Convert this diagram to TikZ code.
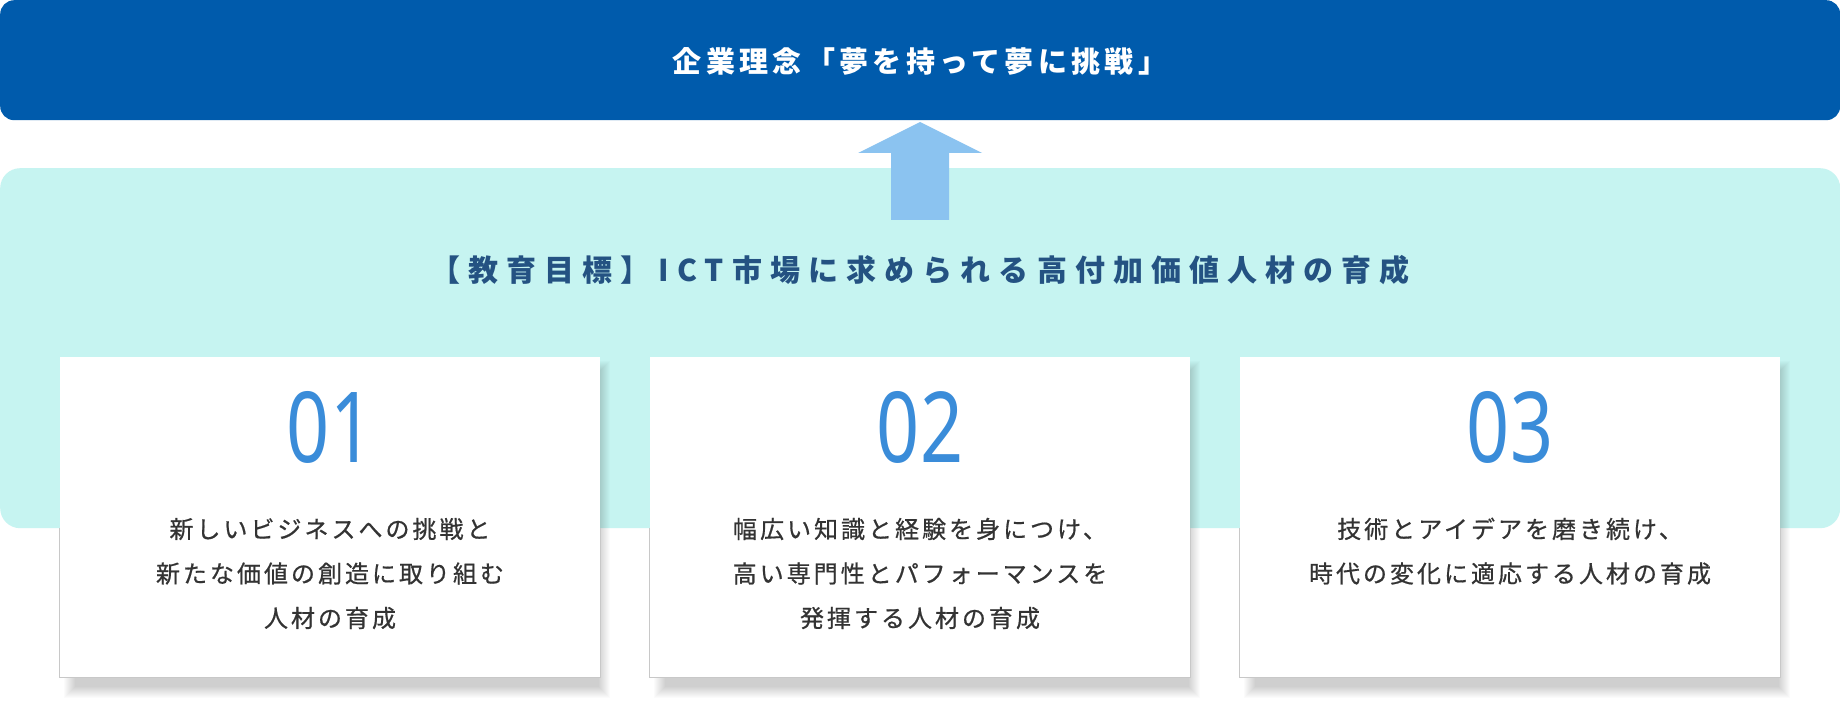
\documentclass[tikz,border=0pt]{standalone}
\usepackage{fontspec}
\newfontfamily\jptitle[LetterSpace=15]{Noto Sans CJK JP}
\newfontfamily\jpsub[LetterSpace=27]{Noto Sans CJK JP}
\newfontfamily\jpbody[LetterSpace=12.5,FakeBold=0.6]{Noto Sans CJK JP}
\newfontfamily\numfont[FakeStretch=0.77]{Noto Sans}
\definecolor{barblue}{RGB}{0,91,172}
\definecolor{goalteal}{RGB}{198,244,241}
\definecolor{arrowblue}{RGB}{139,195,240}
\definecolor{subnavy}{RGB}{36,82,130}
\definecolor{numblue}{RGB}{58,140,217}
\definecolor{bodygray}{RGB}{51,51,51}
\definecolor{edgegray}{RGB}{200,200,200}
\tikzset{
  panel/.style={anchor=north west, inner sep=0pt, minimum width=1840pt},
  card/.style={fill=white, inner sep=0pt, minimum width=540pt, minimum height=320pt},
  shadowlayer/.style={fill=black, opacity=0.015},
  cardedge/.style={draw=edgegray, line width=1pt},
  titletext/.style={text=white, inner sep=0pt, font={\jptitle\bfseries\fontsize{29pt}{34pt}\selectfont}, text height=24.1pt, text depth=2pt},
  subtext/.style={text=subnavy, inner sep=0pt, font={\jpsub\bfseries\fontsize{30pt}{36pt}\selectfont}, text height=24.9pt, text depth=2.1pt},
  numtext/.style={text=numblue, inner sep=0pt, font={\numfont\fontsize{98pt}{110pt}\selectfont}, text height=70pt, text depth=0pt},
  bodytext/.style={text=bodygray, inner sep=0pt, font={\jpbody\fontsize{24pt}{28pt}\selectfont}, text height=19.9pt, text depth=1.7pt}
}
\begin{document}
\begin{tikzpicture}[x=1pt,y=-1pt]
\useasboundingbox (0,0) rectangle (1840,708);
\fill[white] (0,0) rectangle (1840,708);
% philosophy bar
\node[panel, fill=barblue, rounded corners=14pt, minimum height=120pt] (bar) at (0,0) {};
\node[titletext] (title) at (920,61) {企業理念「夢を持って夢に挑戦」};
% goal panel
\node[panel, fill=goalteal, rounded corners=20pt, minimum height=360pt] (goal) at (0,168) {};
% block arrow from goal to philosophy
\coordinate (tip) at (920,122);
\fill[arrowblue] (tip) -- (982,153) -- (949,153) -- (949,220) -- (891,220) -- (891,153) -- (858,153) -- cycle;
\node[subtext] (subtitle) at (920,270) {【教育目標】ICT市場に求められる高付加価値人材の育成};
% soft shadows of the cards
\foreach \cx in {330,920,1510}{
  \foreach \k in {0,...,11}{
    \fill[shadowlayer] (\cx-266+\k,361.5+\k) rectangle (\cx+280-\k,697.5-\k);
  }
}
% cards
\node[card] (card1) at (330,517.5) {};
\node[card] (card2) at (920,517.5) {};
\node[card] (card3) at (1510,517.5) {};
\foreach \c in {card1,card2,card3}{
  \draw[cardedge] (\c.south west |- goal.south) -- (\c.south west) -- (\c.south east) -- (\c.south east |- goal.south);
}
\node[numtext] (num1) at (330,428) {01};
\node[numtext] (num2) at (920,428) {02};
\node[numtext] (num3) at (1510,428) {03};
\node[bodytext] (t1a) at (330,529) {新しいビジネスへの挑戦と};
\node[bodytext] (t1b) at (330,573.5) {新たな価値の創造に取り組む};
\node[bodytext] (t1c) at (330,618) {人材の育成};
\node[bodytext] (t2a) at (920,529) {幅広い知識と経験を身につけ、};
\node[bodytext] (t2b) at (920,573.5) {高い専門性とパフォーマンスを};
\node[bodytext] (t2c) at (920,618) {発揮する人材の育成};
\node[bodytext] (t3a) at (1510,529) {技術とアイデアを磨き続け、};
\node[bodytext] (t3b) at (1510,573.5) {時代の変化に適応する人材の育成};
\end{tikzpicture}
\end{document}
